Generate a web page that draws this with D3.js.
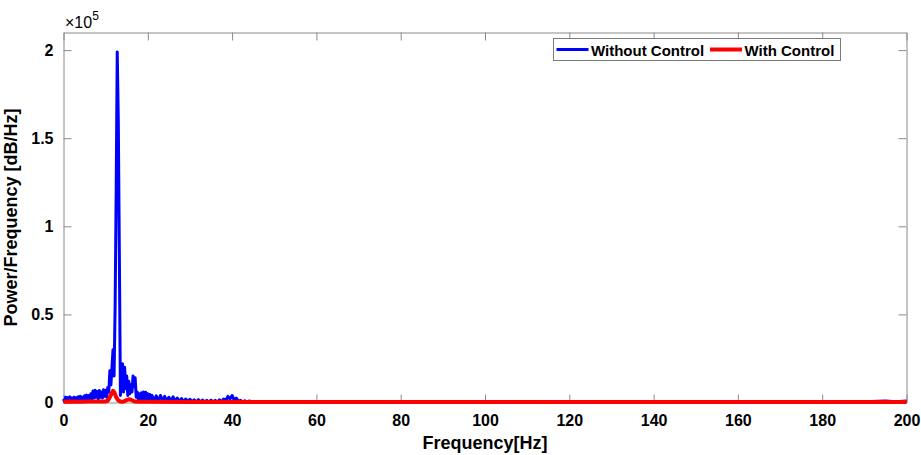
<!DOCTYPE html>
<html>
<head>
<meta charset="utf-8">
<script src="https://cdn.jsdelivr.net/npm/d3@7/dist/d3.min.js"></script>
<style>
  html, body { margin: 0; padding: 0; background: #fff; }
  svg { display: block; font-family: "Liberation Sans", Arial, sans-serif; }
</style>
</head>
<body>
<svg id="chart" width="921" height="455"></svg>
<script>
// ---- Data (values in units of 1e5) ----
const blueFreq = [
  0,0.25,0.5,0.75,1,1.25,1.5,1.75,2,2.25,2.5,2.75,3,3.25,3.5,3.75,4,4.25,4.5,4.75,
  5,5.25,5.5,5.75,6,6.25,6.5,6.75,7,7.25,7.5,7.75,8,8.25,8.5,8.75,9,9.25,9.5,9.75,
  10,10.25,10.5,10.75,11,11.25,11.5,11.75,12,12.25,12.5,12.75,13,13.25,13.5,13.75,
  14,14.25,14.5,14.75,15,15.25,15.5,15.75,16,16.25,16.5,16.75,17,17.25,17.5,17.75,
  18,18.25,18.5,18.75,19,19.25,19.5,19.75,20,20.25,20.5,20.75,21,21.5,22,22.5,23,23.5,
  24,24.5,25,25.5,26,26.5,27,27.5,28,28.5,29,29.5,30,30.5,31,31.5,32,32.5,33,33.5,
  34,34.5,35,35.5,36,36.5,37,37.5,38,38.5,39,39.5,40,40.5,41,41.5,42,42.5,43,43.5,
  44,45,50,55,60,65,70,75,80,85,90,95,100,105,110,115,120,125,130,135,140,145,150,
  155,160,165,170,175,180,185,190,195,197.5,200
];
const blueValues = [
  0.020,0.005,0.030,0.008,0.028,0.006,0.032,0.010,0.025,0.005,0.030,0.012,0.027,0.006,0.033,0.010,0.035,0.008,0.030,0.012,
  0.038,0.010,0.042,0.015,0.040,0.012,0.050,0.020,0.065,0.025,0.070,0.030,0.062,0.020,0.068,0.030,0.060,0.025,0.072,0.035,
  0.070,0.030,0.085,0.060,0.180,0.100,0.200,0.300,0.150,0.550,1.200,1.990,1.600,0.850,0.040,0.100,
  0.220,0.060,0.200,0.080,0.150,0.040,0.120,0.050,0.100,0.060,0.150,0.090,0.140,0.030,0.060,0.020,
  0.050,0.015,0.055,0.020,0.060,0.020,0.058,0.015,0.050,0.015,0.045,0.010,0.040,0.010,0.038,0.008,0.040,0.010,
  0.035,0.008,0.030,0.006,0.032,0.005,0.025,0.004,0.022,0.004,0.020,0.004,0.018,0.004,0.015,0.003,0.016,0.003,0.014,0.003,
  0.012,0.003,0.013,0.003,0.012,0.003,0.015,0.004,0.020,0.010,0.035,0.020,0.040,0.015,0.025,0.005,0.012,0.003,0.010,0.003,
  0.008,0.003,0.006,0.003,0.005,0.003,0.004,0.003,0.004,0.003,0.004,0.003,0.004,0.003,0.004,0.003,0.004,0.003,0.004,0.003,0.004,0.003,0.004,
  0.003,0.004,0.003,0.005,0.003,0.004,0.003,0.004,0.008,0.004,0.008
];
const redFreq = [
  0,2,4,6,8,10,10.5,11,11.5,11.75,12,12.25,12.5,13,13.5,14,14.5,15,15.5,16,16.5,17,18,20,
  30,40,60,80,100,120,140,160,180,200
];
const redValues = [
  0.004,0.005,0.004,0.006,0.005,0.006,0.010,0.030,0.055,0.066,0.060,0.045,0.030,0.012,0.006,0.004,0.008,0.014,0.018,0.016,0.010,0.005,0.004,0.004,
  0.003,0.003,0.003,0.003,0.003,0.003,0.003,0.003,0.003,0.003
];
const xTicks = [0,20,40,60,80,100,120,140,160,180,200];
const yTicks = [0,0.5,1,1.5,2];
const seriesNames = ["Without Control","With Control"];
const seriesColors = ["#0000ff","#ff0000"];

// ---- Layout ----
const L = 63.5, R = 906.5, T = 32.5, B = 402.5;
const svg = d3.select("#chart");
const x = d3.scaleLinear().domain([0,200]).range([L,R]);
const y = d3.scaleLinear().domain([0,2.1]).range([B,T]);
const axisColor = "#8a8a8a";

function styleAxis(g){
  g.selectAll(".domain").attr("stroke", axisColor);
  g.selectAll(".tick line").attr("stroke", axisColor);
  g.selectAll(".tick text").attr("fill","#000").attr("font-size","16px").attr("font-weight","bold")
    .attr("font-family",'"Liberation Sans", Arial, sans-serif');
}

// axes
svg.append("g").attr("transform",`translate(0,${B})`)
  .call(d3.axisBottom(x).tickValues(xTicks).tickSize(-8).tickSizeOuter(0).tickPadding(12).tickFormat(d3.format("d")))
  .call(styleAxis);
svg.append("g").attr("transform",`translate(0,${T})`)
  .call(d3.axisTop(x).tickValues(xTicks).tickSize(-8).tickSizeOuter(0).tickFormat(""))
  .call(styleAxis);
svg.append("g").attr("transform",`translate(${L},0)`)
  .call(d3.axisLeft(y).tickValues(yTicks).tickSize(-8).tickSizeOuter(0).tickPadding(10).tickFormat(d => d===0?"0":d3.format("~g")(d)))
  .call(styleAxis);
svg.append("g").attr("transform",`translate(${R},0)`)
  .call(d3.axisRight(y).tickValues(yTicks).tickSize(-8).tickSizeOuter(0).tickFormat(""))
  .call(styleAxis);

// lines
const line = d3.line().x(d => x(d[0])).y(d => y(d[1]));
svg.append("path").datum(blueFreq.map((f,i)=>[f,blueValues[i]]))
  .attr("d", line).attr("fill","none").attr("stroke",seriesColors[0])
  .attr("stroke-width",3).attr("stroke-linejoin","round");
svg.append("path").datum(redFreq.map((f,i)=>[f,redValues[i]]))
  .attr("d", line).attr("fill","none").attr("stroke",seriesColors[1])
  .attr("stroke-width",4).attr("stroke-linejoin","round");

// exponent
const ex = svg.append("text").attr("x",65).attr("y",28).attr("font-size","16px").attr("fill","#000");
ex.append("tspan").text("\u00d710");
ex.append("tspan").attr("dy",-8).attr("font-size","12px").text("5");

// axis labels
svg.append("text").attr("x",(L+R)/2).attr("y",449).attr("text-anchor","middle")
  .attr("font-size","18px").attr("font-weight","bold").text("Frequency[Hz]");
svg.append("text").attr("transform",`translate(17,${(T+B)/2}) rotate(-90)`).attr("text-anchor","middle")
  .attr("font-size","18px").attr("font-weight","bold").text("Power/Frequency [dB/Hz]");

// legend
const lg = svg.append("g");
lg.append("rect").attr("x",553.5).attr("y",38.5).attr("width",287).attr("height",22)
  .attr("fill","#fff").attr("stroke","#7a7a7a").attr("stroke-width",1);
const legendX = [556.5, 710];
seriesNames.forEach((n,i)=>{
  lg.append("line").attr("x1",legendX[i]).attr("x2",legendX[i]+32).attr("y1",49.5).attr("y2",49.5)
    .attr("stroke",seriesColors[i]).attr("stroke-width",i===0?3:4);
  lg.append("text").attr("x",legendX[i]+34.5).attr("y",55.5).attr("font-size","15px").attr("font-weight","bold")
    .attr("fill","#000").text(n);
});
</script>
</body>
</html>
